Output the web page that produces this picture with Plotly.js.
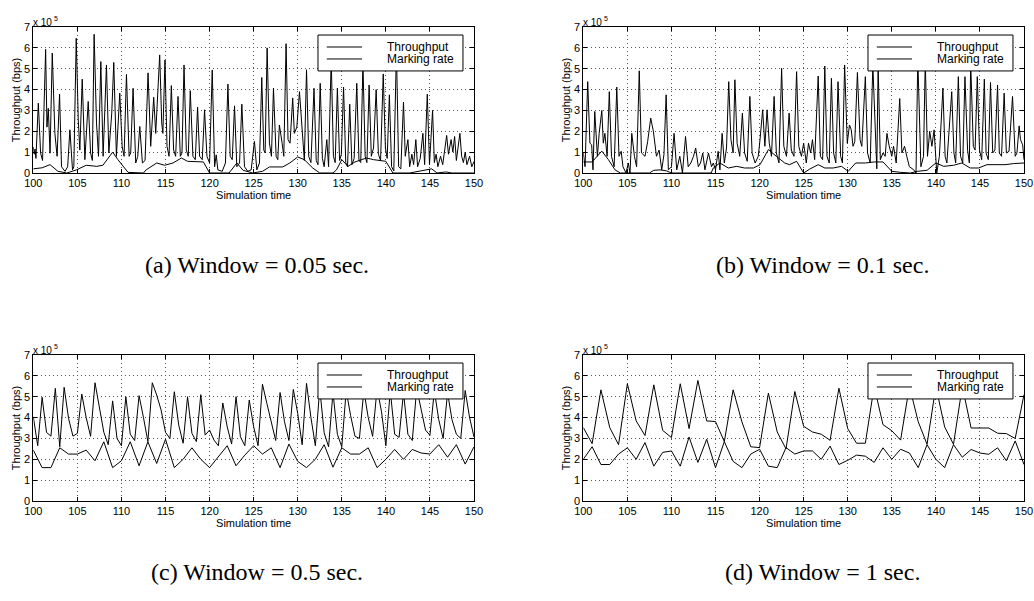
<!DOCTYPE html>
<html>
<head>
<meta charset="utf-8">
<script src="https://cdn.plot.ly/plotly-3.0.1.min.js"></script>
<style>html,body{margin:0;padding:0;background:#fff;}#chart{width:1034px;height:601px;}</style>
</head>
<body>
<div id="chart"></div>
<script>
// ---------- DATA (throughput values in units of 10^5 bps) ----------
// (a) Window = 0.05 sec : vertices (time, value)
const aThrT = [100.0,100.1,100.2,100.3,100.57,100.83,101.05,101.4,101.55,101.7,101.9,102.15,102.45,102.7,102.98,103.2,103.6,103.9,104.15,104.45,
104.6,104.87,105.1,105.28,105.55,105.85,106.23,106.5,106.7,106.9,107.17,107.4,107.66,107.92,108.3,108.57,108.9,109.13,109.43,109.81,
110.08,110.3,110.57,110.87,111.05,111.32,111.62,111.85,112.08,112.38,112.68,113.02,113.32,113.66,113.89,114.34,114.57,114.7,114.94,115.17,
115.4,115.66,115.92,116.15,116.42,116.68,116.87,117.1,117.36,117.58,117.81,118.11,118.38,118.64,118.87,119.17,119.43,119.7,120.0,120.3,
120.57,120.75,120.94,121.43,121.8,122.08,122.34,122.57,122.83,123.09,123.4,123.66,123.96,124.34,124.72,125.09,125.36,125.66,125.92,126.15,
126.3,126.53,126.79,127.02,127.25,127.55,127.74,127.92,128.23,128.42,128.68,128.9,129.13,129.43,129.62,129.9,130.2,130.5,130.75,131.0,
131.25,131.5,131.85,132.1,132.3,132.55,132.8,133.0,133.3,133.5,133.8,134.05,134.25,134.5,134.75,134.95,135.2,135.45,135.65,135.9,
136.15,136.4,136.7,136.95,137.15,137.4,137.65,137.85,138.1,138.35,138.6,138.9,139.15,139.4,139.7,139.95,140.15,140.4,140.65,140.9,
141.2,141.45,141.7,142.0,142.2,142.5,142.7,142.95,143.15,143.4,143.6,143.9,144.2,144.4,144.7,144.95,145.3,145.5,145.7,145.9,
146.2,146.45,146.7,146.9,147.1,147.4,147.6,147.8,148.0,148.2,148.4,148.6,148.8,149.0,149.2,149.5,149.75,150.0];
const aThrV = [1.25,0.9,1.15,0.7,3.35,0.95,0.6,5.93,2.2,3.1,0.95,5.75,1.9,0.8,3.78,0.3,0.08,0.3,2.07,0.15,
0.3,6.46,2.55,1.1,4.5,0.64,3.43,0.96,0.6,6.65,2.4,0.8,5.34,0.8,5.18,0.96,2.87,5.3,0.8,3.83,
1.28,0.8,4.73,0.8,0.96,4.06,0.48,0.8,2.23,0.48,0.6,4.8,1.28,3.63,1.9,5.66,2.4,1.9,5.42,1.28,
0.8,4.19,1.1,0.8,3.67,0.8,0.96,5.18,1.1,0.8,3.95,0.8,0.64,3.16,0.8,0.64,3.03,0.8,0.48,4.94,
0.3,0.87,0.15,0.08,0.48,4.26,0.8,0.64,3.22,0.3,0.48,3.3,0.3,0.08,0.15,1.52,0.15,0.48,4.58,1.1,
0.96,6.0,1.43,0.8,4.07,0.8,0.64,2.3,1.43,0.8,6.2,1.6,1.43,3.6,1.9,2.2,3.9,1.9,0.6,4.95,
0.8,0.5,4.06,0.6,0.4,4.3,0.7,0.3,1.6,0.3,5.5,0.8,0.5,4.07,0.6,0.9,4.12,0.5,0.3,3.3,
0.4,0.7,4.3,0.6,0.5,5.3,0.8,0.5,4.22,0.8,1.2,4.0,0.9,0.6,4.75,1.2,0.7,3.75,0.3,0.1,
5.9,0.3,0.2,3.4,0.8,1.6,0.3,0.9,0.4,1.6,0.3,0.7,1.9,0.4,3.78,0.4,3.0,0.5,0.9,0.3,
0.8,0.4,1.3,1.8,0.9,1.6,1.0,1.75,0.6,1.2,1.9,0.8,0.5,1.0,0.4,0.8,0.3,0.55];
const aMarkT = [100.0,101.0,101.9,102.8,103.8,104.9,106.0,107.2,107.9,109.0,109.6,110.75,112.5,112.8,114.0,114.9,115.85,116.8,117.5,118.5,
119.3,120.0,122.2,123.1,123.8,124.9,126.0,126.8,128.3,129.1,130.0,130.75,131.7,132.5,134.0,134.4,135.0,135.7,136.5,137.8,
138.6,140.0,140.8,142.7,144.2,145.2,145.8,146.8,147.5,150.0];
const aMarkV = [0.2,0.25,0.4,0.08,0.0,0.15,0.37,0.32,0.37,1.0,0.64,0.03,0.0,0.15,0.48,0.37,0.48,0.72,0.56,0.53,
0.53,0.0,0.0,0.48,0.13,0.0,0.08,0.29,0.29,0.48,0.77,0.64,0.24,0.0,0.0,0.15,0.64,0.32,0.53,0.72,
0.64,0.56,0.0,0.0,0.13,0.2,0.0,0.05,0.0,0.0];

// (b) Window = 0.1 sec
const bThrT = [100.0,100.2,100.5,100.75,100.95,101.1,101.3,101.6,101.8,102.1,102.27,102.45,102.7,102.95,103.2,103.5,103.8,104.05,104.3,104.5,
104.85,105.1,105.3,105.5,105.8,106.05,106.35,106.6,107.0,107.3,107.65,107.95,108.3,108.6,108.9,109.15,109.4,109.65,110.0,110.3,
110.6,110.95,111.25,111.6,111.9,112.2,112.5,112.75,113.05,113.3,113.55,113.8,114.2,114.55,114.75,115.0,115.3,115.5,115.75,116.0,
116.25,116.5,116.75,117.0,117.2,117.45,117.75,118.05,118.3,118.6,118.9,119.15,119.5,119.85,120.05,120.35,120.6,120.85,121.1,121.35,
121.65,121.9,122.2,122.5,122.75,123.05,123.35,123.6,123.9,124.2,124.45,124.75,125.0,125.3,125.55,125.8,126.0,126.25,126.65,126.9,
127.15,127.4,127.65,127.9,128.15,128.4,128.65,128.9,129.2,129.4,129.65,129.95,130.2,130.4,130.6,130.8,131.1,131.4,131.6,132.0,
132.25,132.55,132.85,133.1,133.3,133.45,133.7,134.0,134.25,134.45,134.7,135.0,135.2,135.5,135.9,136.15,136.45,136.7,137.0,137.5,
137.75,137.95,138.3,138.6,138.8,139.05,139.3,139.55,139.8,140.1,140.4,140.8,141.05,141.25,141.8,142.05,142.25,142.55,142.8,143.05,
143.3,143.6,143.8,143.95,144.25,144.45,144.7,144.95,145.2,145.5,145.7,145.95,146.2,146.45,146.7,147.0,147.2,147.45,147.75,148.0,
148.3,148.7,149.0,149.2,149.45,149.6,149.85,150.0];
const bThrV = [0.96,0.3,4.38,1.43,1.35,0.15,2.95,0.8,1.9,3.0,1.43,1.9,0.8,3.9,0.8,0.3,4.12,0.8,1.04,0.3,
0.0,0.48,0.0,1.9,0.8,0.3,4.9,0.96,0.8,1.5,2.63,2.0,0.8,1.1,0.15,0.88,3.75,0.15,0.3,1.9,
0.15,0.8,0.0,1.75,0.3,0.48,0.8,1.2,0.3,0.48,0.96,0.15,0.96,0.3,0.48,0.15,1.04,0.15,1.9,0.48,
1.2,4.38,1.6,0.96,4.47,1.43,0.8,2.87,0.96,0.56,3.67,0.96,0.48,0.8,1.6,3.03,1.28,3.03,1.43,0.8,
3.67,0.96,0.48,5.02,1.28,0.8,2.87,1.1,0.8,4.86,1.28,0.8,1.43,0.48,1.43,0.96,1.6,0.64,4.65,0.8,
0.64,5.13,0.8,0.48,4.54,0.96,0.48,4.38,0.8,0.48,5.18,1.43,2.3,2.07,1.28,1.5,4.82,1.6,1.28,4.62,
0.96,0.48,5.18,2.7,0.2,5.18,0.64,0.96,0.8,1.9,1.3,0.8,1.28,0.48,3.57,0.96,1.28,0.8,0.3,0.15,
0.0,5.5,0.3,0.8,5.4,0.8,2.0,1.28,2.07,0.0,0.8,4.07,0.8,0.48,3.9,0.96,0.48,4.62,0.8,0.48,
4.62,1.1,0.48,5.3,1.28,1.1,4.62,1.1,0.64,4.5,0.96,0.64,4.34,0.96,1.1,4.22,0.96,0.8,3.83,0.96,
1.04,3.67,0.8,0.96,2.26,1.6,1.35,0.64];
const bMarkT = [100.0,101.0,102.1,102.85,103.6,104.2,107.5,108.0,108.7,109.45,110.0,114.5,114.75,115.5,116.45,117.4,118.3,119.3,120.05,121.0,
121.9,122.85,123.4,124.2,125.0,125.7,126.65,127.4,128.35,129.3,130.05,130.9,132.0,133.0,134.0,135.0,136.0,137.1,137.9,139.0,
140.0,140.9,142.0,142.95,143.9,144.85,145.8,146.9,147.85,148.8,150.0];
const bMarkV = [0.53,0.53,1.05,0.64,0.15,0.0,0.0,0.13,0.15,0.1,0.0,0.0,0.24,0.48,0.24,0.32,0.24,0.24,0.4,1.12,
0.8,0.48,0.4,0.56,0.0,0.19,0.4,0.24,0.24,0.32,0.08,0.48,0.48,0.53,0.53,0.08,0.03,0.0,0.08,0.13,
0.48,0.32,0.37,0.48,0.24,0.24,0.4,0.4,0.4,0.45,0.48];

// (c) Window = 0.5 sec : throughput every 0.5 s from 100, marking rate every 1 s from 100
const cThr = [4.04,2.65,4.97,3.29,3.11,5.4,2.6,5.45,3.96,3.11,
3.24,5.13,4.0,3.1,5.67,4.4,3.3,2.7,4.8,3.0,
2.65,5.0,3.2,2.9,5.05,4.0,2.85,5.67,5.08,4.36,
3.29,3.0,5.24,3.64,2.77,5.0,3.24,2.85,5.1,3.16,
3.4,2.92,2.65,4.7,3.56,2.73,5.0,3.08,2.65,4.84,
3.56,2.65,5.6,4.68,3.72,2.9,5.2,3.8,2.9,5.35,
4.2,2.7,5.64,4.0,2.65,5.4,3.27,2.6,5.2,3.2,
2.6,5.3,4.1,3.1,3.0,5.3,4.0,3.1,5.4,4.3,
2.65,5.3,3.2,3.05,5.2,3.2,2.9,5.4,4.4,3.4,
3.15,5.3,3.9,3.0,5.2,3.9,3.2,3.0,5.3,4.0,
3.07];
const cMark = [2.44,1.6,1.6,2.55,2.25,2.25,2.44,1.93,2.84,1.6,
1.93,2.84,1.69,2.84,1.8,2.96,1.6,2.0,2.55,2.0,
1.6,2.12,2.65,1.69,2.2,2.65,2.25,2.55,1.6,2.73,
1.9,1.6,2.0,2.7,1.62,2.55,2.25,2.25,2.55,1.6,
2.0,2.47,2.0,2.47,2.3,2.25,2.7,2.1,2.7,1.77,2.6];

// (d) Window = 1 sec : both series every 1 s from 100
const dThr = [3.52,2.75,5.33,3.52,2.7,5.62,3.84,3.14,5.57,3.39,
3.04,5.62,3.47,5.78,3.84,3.81,2.85,5.33,3.79,2.6,
2.56,5.17,3.31,2.5,5.25,3.58,3.31,3.2,2.91,5.41,
3.47,2.77,2.77,5.5,3.66,3.37,2.92,5.5,3.8,2.72,
5.5,3.55,2.72,5.5,3.5,3.5,3.5,3.25,3.23,3.0,5.1];
const dMark = [2.0,2.6,1.75,1.75,2.25,2.55,2.0,2.8,1.67,2.33,
2.4,1.67,3.07,1.85,2.96,1.6,2.85,1.9,1.6,2.25,
2.48,1.67,1.6,2.56,2.25,2.4,2.4,2.0,2.63,1.75,
1.95,2.2,2.15,1.85,2.55,2.0,2.48,2.3,1.6,2.7,
2.0,1.6,2.7,2.1,2.47,2.3,2.24,2.55,1.93,2.88,1.75];

const seriesNames = ['Throughput', 'Marking rate'];
const captions = ['(a) Window = 0.05 sec.', '(b) Window = 0.1 sec.', '(c) Window = 0.5 sec.', '(d) Window = 1 sec.'];
const xTicks = [100,105,110,115,120,125,130,135,140,145,150];
const yTicks = [0,1,2,3,4,5,6,7];

// ---------- LAYOUT ----------
const W = 1034, H = 601;
const SANS = 'Liberation Sans, Arial, Helvetica, sans-serif';
const SERIF = 'Liberation Serif, Times New Roman, serif';
const xDom = [[33.3/W, 474/W], [583.3/W, 1024/W]];
const yDom = [[1-173/H, 1-27/H], [1-501/H, 1-355/H]];
const panels = [
  {col:0,row:0},{col:1,row:0},{col:0,row:1},{col:1,row:1}
];
const capPos = [[257,265],[822,265],[257,572],[822,572]];

const lineStyle = {color:'#000', width:1};
const traces = [];
function addPanel(i, thr, mark) {
  const sfx = i === 0 ? '' : String(i+1);
  const common = {mode:'lines', line:lineStyle, hoverinfo:'skip', showlegend:false, xaxis:'x'+sfx, yaxis:'y'+sfx};
  traces.push(Object.assign({name:seriesNames[0]}, common, thr));
  traces.push(Object.assign({name:seriesNames[1]}, common, mark));
}
addPanel(0, {x:aThrT, y:aThrV}, {x:aMarkT, y:aMarkV});
addPanel(1, {x:bThrT, y:bThrV}, {x:bMarkT, y:bMarkV});
addPanel(2, {x0:100, dx:0.5, y:cThr}, {x0:100, dx:1, y:cMark});
addPanel(3, {x0:100, dx:1, y:dThr}, {x0:100, dx:1, y:dMark});

const layout = {
  width: W, height: H,
  margin: {l:0, r:0, t:0, b:0},
  paper_bgcolor: '#fff', plot_bgcolor: '#fff',
  showlegend: false,
  shapes: [], annotations: []
};
panels.forEach((p, i) => {
  const sfx = i === 0 ? '' : String(i+1);
  layout['xaxis'+sfx] = {
    domain: xDom[p.col], anchor: 'y'+sfx, range:[100,150], tickvals: xTicks,
    ticks:'inside', ticklen:4, tickcolor:'#000', tickwidth:1,
    showline:true, linecolor:'#000', linewidth:1, mirror:'allticks',
    showgrid:true, gridcolor:'#555', gridwidth:1, griddash:'1px,3px', zeroline:false,
    tickfont:{family:SANS, size:11, color:'#000'},
    title:{text:'Simulation time', font:{family:SANS, size:11, color:'#000'}, standoff:1}
  };
  layout['yaxis'+sfx] = {
    domain: yDom[p.row], anchor: 'x'+sfx, range:[0,7], tickvals: yTicks,
    ticks:'inside', ticklen:4, tickcolor:'#000', tickwidth:1,
    showline:true, linecolor:'#000', linewidth:1, mirror:'allticks',
    showgrid:true, gridcolor:'#555', gridwidth:1, griddash:'1px,3px', zeroline:false,
    tickfont:{family:SANS, size:11, color:'#000'},
    title:{text:'Throughput (bps)', font:{family:SANS, size:11, color:'#000'}, standoff:1}
  };
  const xr = 'x'+sfx+' domain', yr = 'y'+sfx+' domain';
  // legend box
  layout.shapes.push({type:'rect', xref:xr, yref:yr, x0:0.646, x1:0.975, y0:0.699, y1:0.945,
    fillcolor:'#fff', line:{color:'#000', width:1}, layer:'above'});
  layout.shapes.push({type:'line', xref:xr, yref:yr, x0:0.666, x1:0.746, y0:0.863, y1:0.863, line:{color:'#000', width:1}});
  layout.shapes.push({type:'line', xref:xr, yref:yr, x0:0.666, x1:0.746, y0:0.781, y1:0.781, line:{color:'#000', width:1}});
  layout.annotations.push({xref:xr, yref:yr, x:0.798, y:0.863, text:seriesNames[0], showarrow:false,
    xanchor:'left', yanchor:'middle', font:{family:SANS, size:12, color:'#000'}});
  layout.annotations.push({xref:xr, yref:yr, x:0.798, y:0.781, text:seriesNames[1], showarrow:false,
    xanchor:'left', yanchor:'middle', font:{family:SANS, size:12, color:'#000'}});
  // exponent label: "x 10" with a raised "5"
  layout.annotations.push({xref:xr, yref:yr, x:0, y:1, text:'x 10', showarrow:false,
    xanchor:'left', yanchor:'bottom', xshift:-2, yshift:-3, font:{family:SANS, size:10, color:'#000'}});
  layout.annotations.push({xref:xr, yref:yr, x:0, y:1, text:'5', showarrow:false,
    xanchor:'left', yanchor:'bottom', xshift:19, yshift:3, font:{family:SANS, size:7, color:'#000'}});
  // caption
  layout.annotations.push({xref:'paper', yref:'paper', x:capPos[i][0]/W, y:1-capPos[i][1]/H, text:captions[i],
    showarrow:false, xanchor:'center', yanchor:'middle', font:{family:SERIF, size:24, color:'#000'}});
});

Plotly.newPlot('chart', traces, layout, {staticPlot:true, displayModeBar:false});
</script>
</body>
</html>
